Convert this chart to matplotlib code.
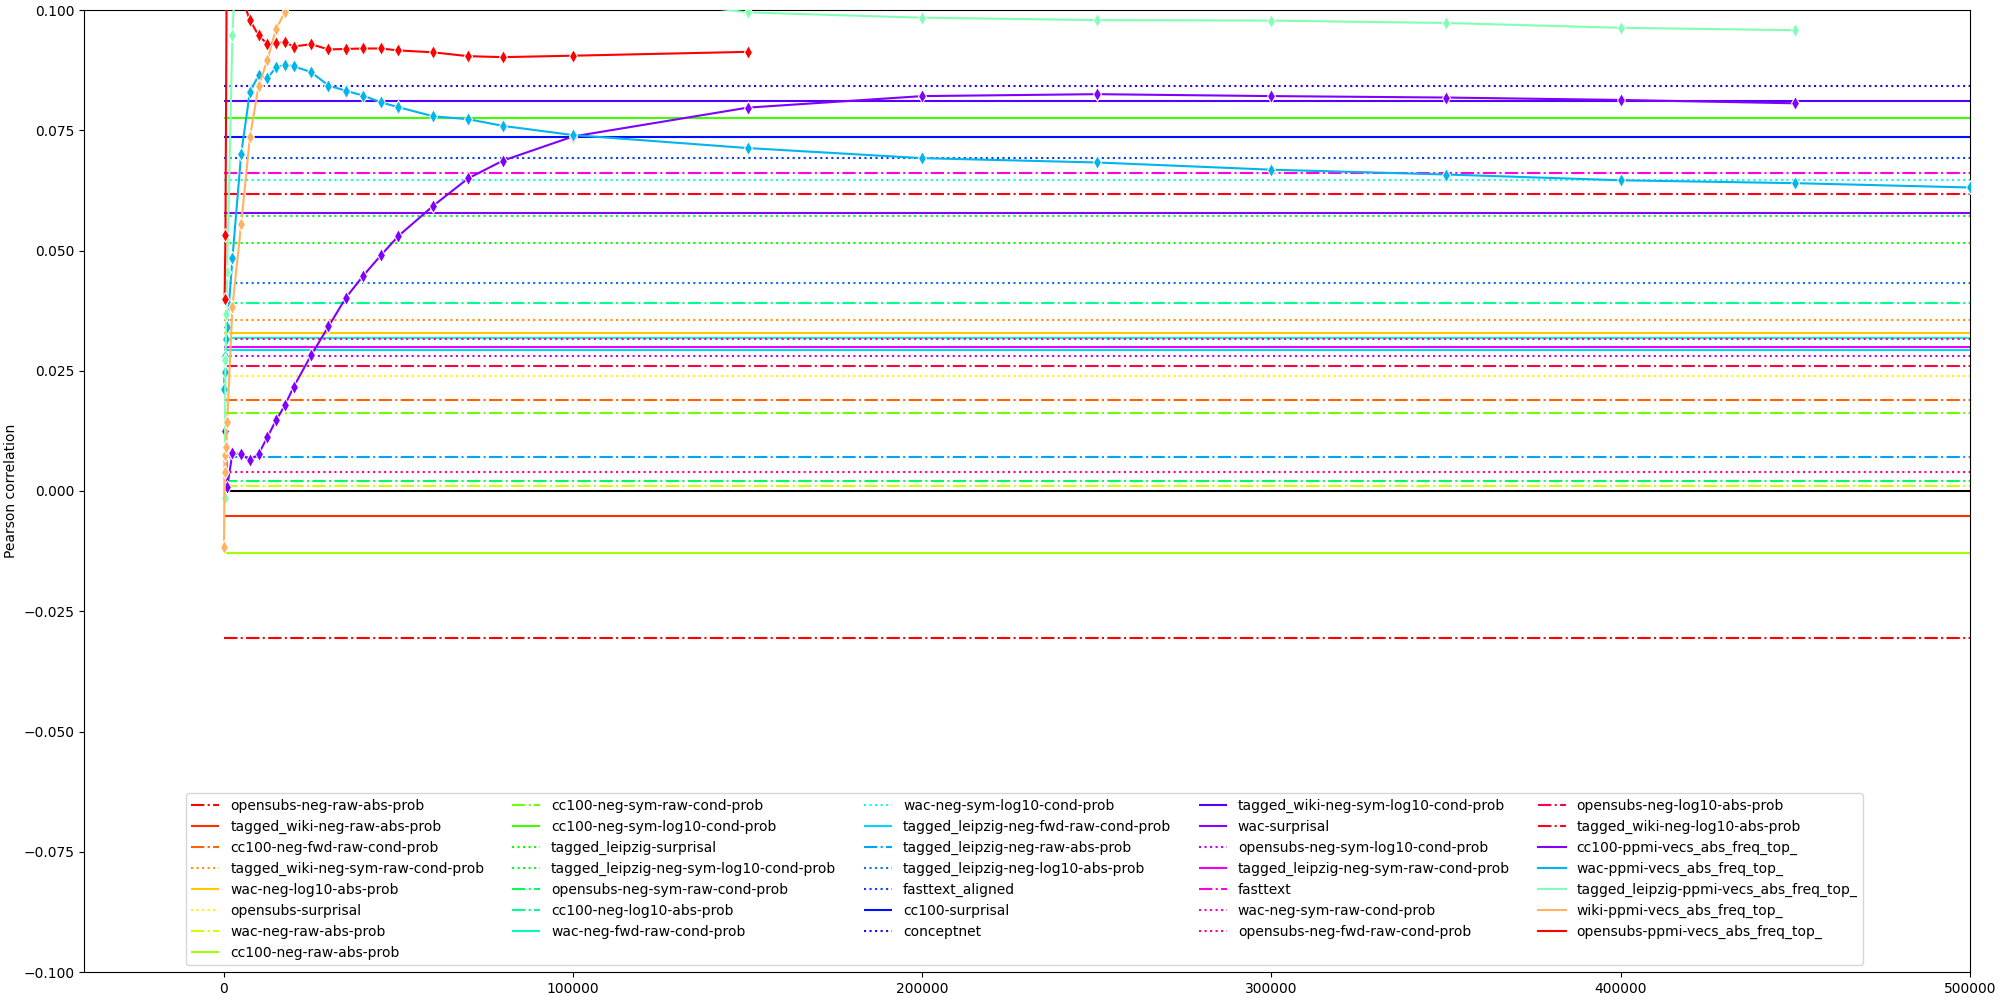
import numpy as np
import matplotlib
matplotlib.use("Agg")
import matplotlib.pyplot as plt

plt.rcParams['font.family'] = ['Liberation Sans Narrow', 'DejaVu Sans']

# ---------------- data ----------------
baseline_names = [
    "opensubs-neg-raw-abs-prob", "tagged_wiki-neg-raw-abs-prob", "cc100-neg-fwd-raw-cond-prob",
    "tagged_wiki-neg-sym-raw-cond-prob", "wac-neg-log10-abs-prob", "opensubs-surprisal",
    "wac-neg-raw-abs-prob", "cc100-neg-raw-abs-prob", "cc100-neg-sym-raw-cond-prob",
    "cc100-neg-sym-log10-cond-prob", "tagged_leipzig-surprisal", "tagged_leipzig-neg-sym-log10-cond-prob",
    "opensubs-neg-sym-raw-cond-prob", "cc100-neg-log10-abs-prob", "wac-neg-fwd-raw-cond-prob",
    "wac-neg-sym-log10-cond-prob", "tagged_leipzig-neg-fwd-raw-cond-prob", "tagged_leipzig-neg-raw-abs-prob",
    "tagged_leipzig-neg-log10-abs-prob", "fasttext_aligned", "cc100-surprisal", "conceptnet",
    "tagged_wiki-neg-sym-log10-cond-prob", "wac-surprisal", "opensubs-neg-sym-log10-cond-prob",
    "tagged_leipzig-neg-sym-raw-cond-prob", "fasttext", "wac-neg-sym-raw-cond-prob",
    "opensubs-neg-fwd-raw-cond-prob", "opensubs-neg-log10-abs-prob", "tagged_wiki-neg-log10-abs-prob",
]
baseline_values = [
    -0.0305, -0.0053, 0.0189, 0.0355, 0.0329, 0.0239, 0.0011, -0.0128,
    0.0162, 0.0776, 0.0516, 0.0572, 0.0021, 0.0391, 0.0319,
    0.0647, 0.0294, 0.0071, 0.0433, 0.0693, 0.0735, 0.0842,
    0.0811, 0.0577, 0.0281, 0.0299, 0.0661, 0.0317, 0.0040,
    0.0260, 0.0618,
]
baseline_styles = [
    "-.", "-", "-.", ":", "-", ":", "-.", "-",
    "-.", "-", ":", ":", "-.", "-.", "-",
    ":", "-", "-.", ":", ":", "-", ":",
    "-", "-", ":", "-", "-.", ":", ":",
    "-.", "-.",
]

top_n = [100, 250, 500, 750, 1000, 2500, 5000, 7500, 10000, 12500, 15000, 17500, 20000,
         25000, 30000, 35000, 40000, 45000, 50000, 60000, 70000, 80000, 100000, 150000,
         200000, 250000, 300000, 350000, 400000, 450000, 500000]

nan = np.nan
curve_names = ["cc100-ppmi-vecs_abs_freq_top_", "wac-ppmi-vecs_abs_freq_top_",
               "tagged_leipzig-ppmi-vecs_abs_freq_top_", "wiki-ppmi-vecs_abs_freq_top_",
               "opensubs-ppmi-vecs_abs_freq_top_"]

cc100_ppmi = [nan, nan, 0.0125, nan, 0.0009, 0.0078, 0.0077, 0.0064, 0.0077, 0.0112, 0.0147,
              0.0178, 0.0216, 0.0282, 0.0342, 0.0402, 0.0448, 0.0490, 0.0530, 0.0593, 0.0650,
              0.0687, 0.0737, 0.0797, 0.0821, 0.0825, 0.0821, 0.0818, 0.0813, 0.0806, nan]
wac_ppmi = [0.0213, 0.0248, 0.0280, 0.0317, 0.0340, 0.0484, 0.0701, 0.0830, 0.0864, 0.0858,
            0.0881, 0.0886, 0.0883, 0.0871, 0.0843, 0.0832, 0.0822, 0.0808, 0.0798, 0.0779,
            0.0773, 0.0759, 0.0740, 0.0713, 0.0692, 0.0683, 0.0668, 0.0658, 0.0646, 0.0640, 0.0631]
tagged_leipzig_ppmi = [nan, -0.0014, 0.0272, 0.0367, 0.0456, 0.0948, 0.135, 0.130, 0.125, 0.122,
                       0.120, 0.118, 0.117, 0.115, 0.113, 0.112, 0.111, 0.110, 0.109, 0.108,
                       0.107, 0.106, 0.104, 0.0995, 0.0984, 0.0979, 0.0978, 0.0973, 0.0963, 0.0958, nan]
wiki_ppmi = [-0.0116, 0.0075, 0.0040, 0.0092, 0.0144, 0.0383, 0.0555, 0.0736, 0.0842, 0.0896,
             0.0961, 0.0995, 0.104, 0.108, 0.111, 0.113, 0.114, 0.115, 0.116, 0.117, 0.118, 0.118,
             nan, nan, nan, nan, nan, nan, nan, nan, nan]
opensubs_ppmi = [nan, 0.0400, 0.0532, nan, 0.130, 0.115, 0.103, 0.0979, 0.0947, 0.0929, 0.0931,
                 0.0933, 0.0924, 0.0929, 0.0918, 0.0919, 0.0920, 0.0920, 0.0916, 0.0912, 0.0904,
                 0.0902, 0.0905, 0.0913, nan, nan, nan, nan, nan, nan, nan]
curve_values = [cc100_ppmi, wac_ppmi, tagged_leipzig_ppmi, wiki_ppmi, opensubs_ppmi]

x_ticks = [0, 100000, 200000, 300000, 400000, 500000]
y_ticks = [-0.100, -0.075, -0.050, -0.025, 0.000, 0.025, 0.050, 0.075, 0.100]

# ---------------- plot ----------------
fig = plt.figure(figsize=(20, 10), dpi=100)
ax = fig.add_axes([0.042, 0.028, 0.943, 0.962])

x_start = 0
x_end = max(top_n)
base_colors = plt.cm.hsv(np.linspace(0, 1, len(baseline_names)))

handles = []
for name, val, ls, col in zip(baseline_names, baseline_values, baseline_styles, base_colors):
    h = ax.hlines(val, x_start, x_end, colors=[col], linestyles=ls, linewidth=1.5, label=name)
    handles.append(h)

ax.hlines(0, x_start, x_end, colors="black", linewidth=1.5)

curve_colors = plt.cm.rainbow(np.linspace(0, 1, len(curve_names)))
xs = np.array(top_n, dtype=float)
for name, vals, col in zip(curve_names, curve_values, curve_colors):
    v = np.array(vals, dtype=float)
    m = ~np.isnan(v)
    (ln,) = ax.plot(xs[m], v[m], color=col, lw=1.5, label=name, zorder=3)
    ax.plot(xs[m], v[m], ls="none", marker="d", ms=7, color=col, mec="white", mew=0.75, zorder=3)
    handles.append(ln)

ax.set_xlim(-40000, 500000)
ax.set_ylim(-0.1, 0.1)
ax.set_xticks(x_ticks)
ax.set_yticks(y_ticks)
ax.set_ylabel("Pearson correlation")

leg = ax.legend(handles=handles, ncol=5, loc="lower left",
                bbox_to_anchor=(0.054, 0.007), borderaxespad=0, fontsize=10)

fig.savefig("out.png", dpi=100)
